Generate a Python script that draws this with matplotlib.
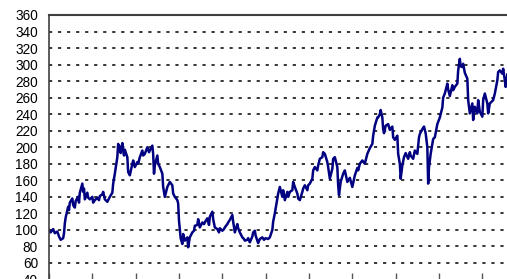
import matplotlib
matplotlib.use("Agg")
import matplotlib.pyplot as plt

plt.rcParams['font.family'] = ['Liberation Sans', 'DejaVu Sans']
plt.rcParams['lines.scale_dashes'] = False

# weekly index values (x = week number, ticks every 52 weeks)
weeks = [0, 2, 5, 7, 10, 12, 14, 17, 18, 19, 20, 23, 24, 25, 28, 29, 31, 32, 35, 36,
         37, 40, 41, 42, 43, 46, 47, 49, 52, 53, 55, 58, 60, 61, 64, 65, 67, 70, 72, 73,
         76, 77, 79, 82, 83, 85, 86, 88, 89, 90, 91, 94, 95, 97, 100, 101, 103, 106, 107, 109,
         112, 113, 115, 118, 120, 121, 124, 125, 126, 127, 130, 131, 133, 136, 137, 139, 142, 144, 145, 148,
         149, 151, 154, 155, 156, 157, 158, 160, 161, 163, 166, 167, 169, 172, 174, 175, 178, 179, 181, 184,
         186, 188, 190, 192, 193, 196, 197, 199, 202, 204, 205, 208, 210, 211, 214, 215, 217, 220, 221, 223,
         226, 227, 229, 232, 234, 235, 238, 239, 241, 244, 245, 247, 248, 251, 253, 256, 258, 260, 263, 265,
         268, 269, 271, 275, 277, 280, 281, 283, 286, 287, 289, 292, 293, 295, 298, 299, 301, 304, 305, 307,
         310, 311, 313, 316, 317, 319, 322, 323, 325, 328, 329, 331, 334, 335, 337, 340, 341, 343, 346, 347,
         348, 350, 353, 355, 358, 361, 364, 367, 370, 371, 373, 376, 379, 382, 385, 388, 389, 391, 394, 395,
         397, 398, 400, 401, 402, 404, 407, 409, 412, 413, 415, 418, 419, 421, 422, 424, 426, 428, 431, 433,
         434, 437, 439, 442, 444, 445, 448, 450, 452, 454, 455, 456, 458, 461, 463, 466, 469, 472, 473, 475,
         478, 479, 481, 484, 485, 487, 490, 491, 493, 494, 496, 497, 499, 502, 503, 505, 508, 509, 511, 514,
         515, 517, 520, 521, 523, 526, 527, 529, 533, 535, 538, 539, 541, 544, 545, 547, 548, 550]
index = [100, 97, 101, 96, 98, 92, 88, 90, 96, 108, 115, 128, 124, 133, 138, 130, 127, 135, 140, 133,
         145, 156, 146, 150, 137, 145, 139, 137, 140, 133, 136, 139, 136, 141, 143, 146, 137, 134, 138, 140,
         145, 156, 168, 188, 204, 200, 193, 205, 196, 190, 197, 188, 170, 166, 180, 184, 176, 182, 180, 188,
         196, 190, 192, 200, 194, 196, 202, 192, 168, 178, 190, 180, 176, 168, 152, 140, 152, 156, 158, 154,
         144, 140, 136, 132, 111, 100, 90, 83, 95, 87, 91, 79, 91, 97, 99, 105, 106, 113, 103, 109,
         107, 111, 114, 106, 116, 122, 113, 103, 101, 97, 102, 99, 101, 103, 107, 109, 112, 118, 110, 97,
         107, 102, 97, 91, 89, 87, 88, 90, 85, 92, 97, 99, 93, 84, 89, 91, 88, 90, 89, 91,
         100, 110, 120, 144, 152, 140, 148, 136, 146, 140, 146, 148, 158, 152, 144, 138, 136, 146, 150, 154,
         148, 154, 156, 162, 172, 176, 172, 178, 186, 188, 194, 192, 182, 176, 162, 174, 186, 188, 176, 154,
         142, 158, 168, 172, 158, 163, 152, 166, 175, 172, 180, 184, 180, 192, 199, 204, 214, 226, 236, 236,
         240, 245, 236, 222, 217, 226, 228, 221, 225, 212, 209, 214, 192, 180, 162, 178, 188, 193, 186, 194,
         190, 186, 196, 192, 212, 216, 222, 225, 217, 200, 156, 176, 192, 210, 212, 228, 236, 248, 260, 265,
         277, 270, 262, 275, 269, 273, 277, 293, 307, 298, 297, 301, 290, 283, 257, 241, 253, 233, 249, 241,
         257, 243, 237, 257, 265, 253, 241, 253, 257, 265, 281, 291, 293, 289, 295, 281, 273, 288]

y_ticks = list(range(40, 361, 20))
x_ticks = list(range(0, 561, 52))

W, H = 507, 279
fig = plt.figure(figsize=(W / 100, H / 100), dpi=100)
left_px, top_px, bottom_px = 49, 15, 279.5
x_max = 560
right_px = 49 + x_max / 1.2
ax = fig.add_axes([left_px / W, 1 - bottom_px / H, (right_px - left_px) / W, (bottom_px - top_px) / H])

ax.plot(weeks, index, color='#000080', lw=1.8, solid_joinstyle='round')

ax.set_xlim(0, x_max)
ax.set_ylim(40, 360)
ax.set_yticks(y_ticks)
ax.set_xticks(x_ticks)
ax.set_xticklabels([])
ax.tick_params(axis='y', length=0, pad=8, labelsize=9.8, labelcolor='black')
ax.tick_params(axis='x', direction='in', length=5, width=1, color='#555555')

for v in y_ticks[1:-1]:
    ax.axhline(v, color='black', lw=1.1, linestyle=(0, (2.3, 4.2)), zorder=0.5)

for s in ['right', 'bottom']:
    ax.spines[s].set_visible(False)
ax.spines['top'].set_color('#404040')
ax.spines['top'].set_linewidth(1.5)
ax.spines['left'].set_color('#404040')
ax.spines['left'].set_linewidth(1.2)

fig.savefig('out.png', dpi=100)
